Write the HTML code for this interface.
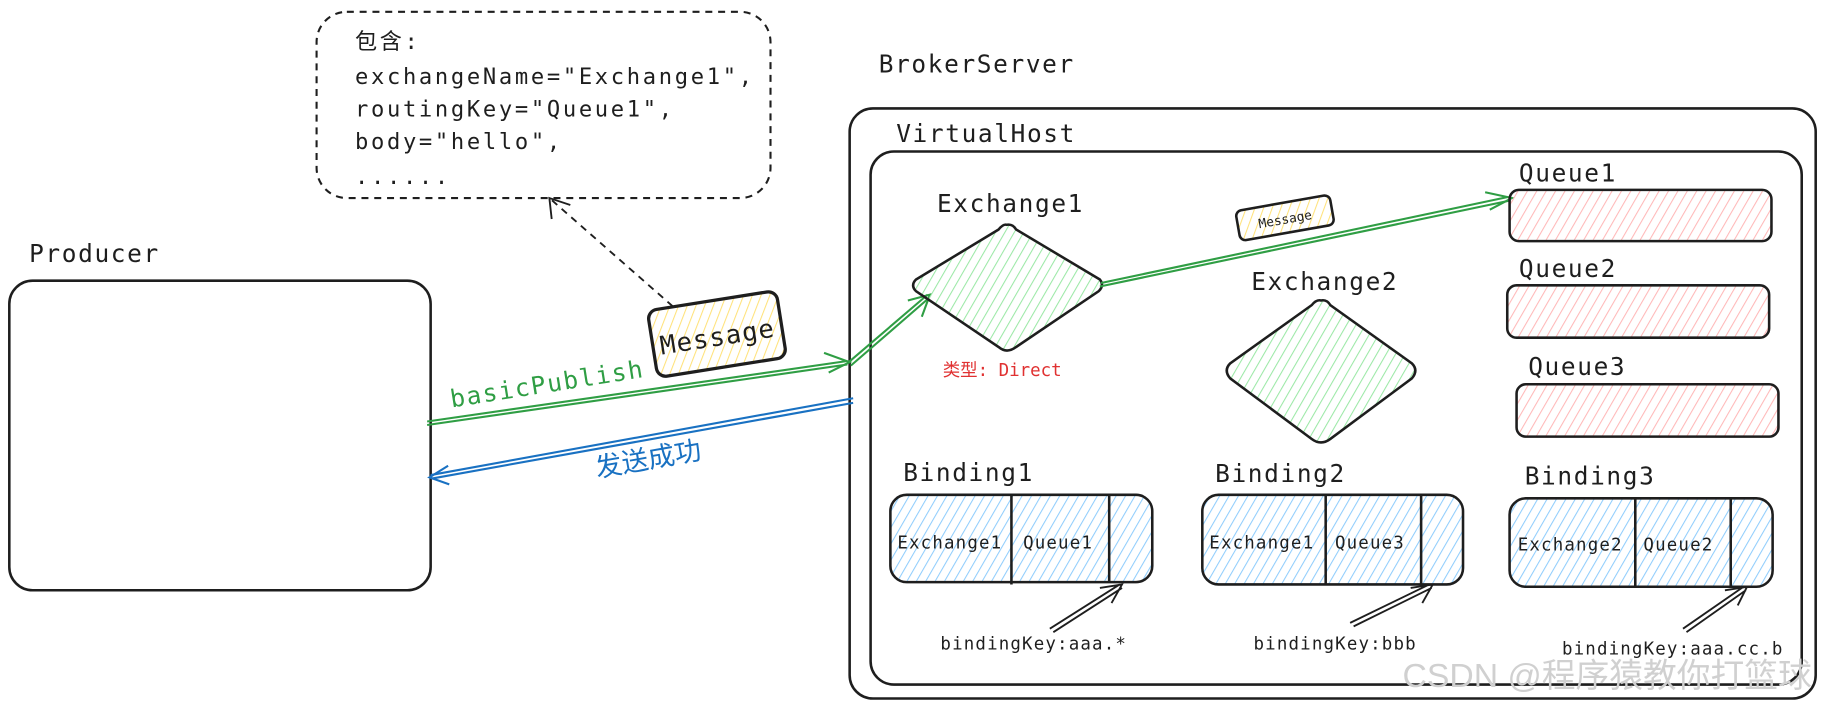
<!DOCTYPE html>
<html><head><meta charset="utf-8"><style>
html,body{margin:0;padding:0;background:#fff;}
svg{display:block;}
text{font-family:"DejaVu Sans Mono","Liberation Mono","Noto Sans CJK SC",monospace;fill:#1e1e1e;}
.t21{font-size:21px;letter-spacing:1.4px;}
.t15{font-size:15px;letter-spacing:1px;}
.b{font-size:19px;letter-spacing:2.3px;}
</style></head><body>
<svg width="1825" height="708" viewBox="0 0 1568 608" xmlns="http://www.w3.org/2000/svg">
<defs>
<pattern id="hg" width="7" height="7" patternUnits="userSpaceOnUse" patternTransform="rotate(30)"><line x1="0" y1="0" x2="0" y2="7" stroke="#9be8a6" stroke-width="1.8"/></pattern>
<pattern id="hr" width="7" height="7" patternUnits="userSpaceOnUse" patternTransform="rotate(30)"><line x1="0" y1="0" x2="0" y2="7" stroke="#ffb8b8" stroke-width="1.8"/></pattern>
<pattern id="hb" width="7" height="7" patternUnits="userSpaceOnUse" patternTransform="rotate(30)"><line x1="0" y1="0" x2="0" y2="7" stroke="#90cdfc" stroke-width="1.8"/></pattern>
<pattern id="hy" width="7" height="7" patternUnits="userSpaceOnUse" patternTransform="rotate(30)"><line x1="0" y1="0" x2="0" y2="7" stroke="#ffe27a" stroke-width="1.8"/></pattern>
</defs>

<rect x="272" y="10" width="390" height="160" rx="26" fill="none" stroke="#1e1e1e" stroke-width="1.8" stroke-dasharray="6 5"/>
<text x="305" y="42" class="b">包含:</text>
<text x="305" y="72" class="b">exchangeName="Exchange1",</text>
<text x="305" y="100" class="b">routingKey="Queue1",</text>
<text x="305" y="128" class="b">body="hello",</text>
<text x="305" y="158" class="b">......</text>
<path d="M578 263 L472 170" stroke="#1e1e1e" stroke-width="1.6" stroke-dasharray="6 5" fill="none"/>
<path d="M474 188 L472 170 L490 176" stroke="#1e1e1e" stroke-width="1.6" fill="none"/>

<text x="755" y="62" class="t21">BrokerServer</text>
<rect x="730" y="93" width="830" height="507" rx="20" fill="none" stroke="#1e1e1e" stroke-width="2.2"/>
<text x="770" y="122" class="t21">VirtualHost</text>
<rect x="748" y="130" width="800" height="458" rx="20" fill="none" stroke="#1e1e1e" stroke-width="2.2"/>

<text x="25" y="225" class="t21">Producer</text>
<rect x="8" y="241" width="362" height="266" rx="20" fill="none" stroke="#1e1e1e" stroke-width="2.2"/>

<g transform="rotate(-9 615 287)">
<rect x="560" y="258" width="112" height="58" rx="8" fill="url(#hy)" stroke="#1e1e1e" stroke-width="2.8"/>
<text x="616" y="297" font-size="22" text-anchor="middle" style="letter-spacing:1px">Message</text>
</g>

<path d="M367 362 L728 310 M367 365 L728 313" stroke="#2f9e44" stroke-width="1.8" fill="none"/>
<path d="M708 303 L730 311 L712 320" stroke="#2f9e44" stroke-width="1.8" fill="none"/>
<text x="388" y="350" class="t21" style="fill:#2f9e44" transform="rotate(-9 388 350)">basicPublish</text>
<path d="M728 312 L797 253 M731 314 L798 256" stroke="#2f9e44" stroke-width="1.8" fill="none"/>
<path d="M780 258 L799 253 L792 272" stroke="#2f9e44" stroke-width="1.8" fill="none"/>

<path d="M733 342 L370 408 M733 346 L371 411" stroke="#1971c2" stroke-width="1.8" fill="none"/>
<path d="M385 400 L369 410 L386 416" stroke="#1971c2" stroke-width="1.8" fill="none"/>
<text x="513" y="410" font-size="23" style="fill:#1971c2;font-family:'Noto Sans CJK SC',sans-serif" transform="rotate(-10 513 410)">发送成功</text>

<text x="805" y="182" class="t21">Exchange1</text>
<path d="M865 193 Q870 192 873 197 L945 240 Q949 245 944 250 L873 298 Q865 304 858 298 L787 250 Q782 245 787 240 L858 197 Q862 192 865 193 Z" fill="url(#hg)" stroke="#1e1e1e" stroke-width="2.2"/>
<text x="810" y="323" font-size="15" style="fill:#e03131">类型: Direct</text>

<path d="M945 246 L1298 172 M946 243 L1296 169" stroke="#2f9e44" stroke-width="1.8" fill="none"/>
<path d="M1276 165 L1299 170 L1280 180" stroke="#2f9e44" stroke-width="1.8" fill="none"/>
<g transform="rotate(-10 1104 187)">
<rect x="1063" y="174" width="82" height="26" rx="5" fill="url(#hy)" stroke="#1e1e1e" stroke-width="2.2"/>
<text x="1104" y="192" font-size="11" text-anchor="middle">Message</text>
</g>

<text x="1075" y="249" class="t21">Exchange2</text>
<path d="M1135 258 Q1140 257 1143 262 L1213 312 Q1219 318 1213 325 L1143 377 Q1135 383 1127 377 L1057 325 Q1051 318 1057 312 L1127 262 Q1131 257 1135 258 Z" fill="url(#hg)" stroke="#1e1e1e" stroke-width="2.2"/>

<text x="1305" y="156" class="t21">Queue1</text>
<rect x="1297" y="163" width="225" height="44" rx="8" fill="url(#hr)" stroke="#1e1e1e" stroke-width="2.2"/>
<text x="1305" y="238" class="t21">Queue2</text>
<rect x="1295" y="245" width="225" height="45" rx="8" fill="url(#hr)" stroke="#1e1e1e" stroke-width="2.2"/>
<text x="1313" y="322" class="t21">Queue3</text>
<rect x="1303" y="330" width="225" height="45" rx="8" fill="url(#hr)" stroke="#1e1e1e" stroke-width="2.2"/>

<text x="776" y="413" class="t21">Binding1</text>
<rect x="765" y="425" width="225" height="75" rx="14" fill="url(#hb)" stroke="#1e1e1e" stroke-width="2.2"/>
<path d="M869 425 V502 M953 424 V500" stroke="#1e1e1e" stroke-width="2.2"/>
<text x="771" y="471" class="t15">Exchange1</text>
<text x="879" y="471" class="t15">Queue1</text>

<text x="1044" y="414" class="t21">Binding2</text>
<rect x="1033" y="425" width="224" height="77" rx="14" fill="url(#hb)" stroke="#1e1e1e" stroke-width="2.2"/>
<path d="M1139 425 V502 M1221 424 V502" stroke="#1e1e1e" stroke-width="2.2"/>
<text x="1039" y="471" class="t15">Exchange1</text>
<text x="1147" y="471" class="t15">Queue3</text>

<text x="1310" y="416" class="t21">Binding3</text>
<rect x="1297" y="428" width="226" height="76" rx="14" fill="url(#hb)" stroke="#1e1e1e" stroke-width="2.2"/>
<path d="M1405 428 V504 M1487 428 V504" stroke="#1e1e1e" stroke-width="2.2"/>
<text x="1304" y="473" class="t15">Exchange2</text>
<text x="1412" y="473" class="t15">Queue2</text>

<g stroke="#1e1e1e" stroke-width="1.6" fill="none">
<path d="M902 540 L962 502 M905 543 L964 505 M945 505 L964 502 L955 518"/>
<path d="M1160 535 L1228 502 M1163 538 L1230 505 M1212 505 L1231 502 L1222 518"/>
<path d="M1446 540 L1498 504 M1449 543 L1500 507 M1482 507 L1501 504 L1493 520"/>
</g>
<text x="808" y="558" class="t15">bindingKey:aaa.*</text>
<text x="1077" y="558" class="t15">bindingKey:bbb</text>
<text x="1342" y="562" class="t15">bindingKey:aaa.cc.b</text>

<text x="1205" y="590" font-size="29" style="fill:#d0d0d0;font-family:'Liberation Sans','Noto Sans CJK SC',sans-serif">CSDN @程序猿教你打篮球</text>
</svg>
</body></html>
